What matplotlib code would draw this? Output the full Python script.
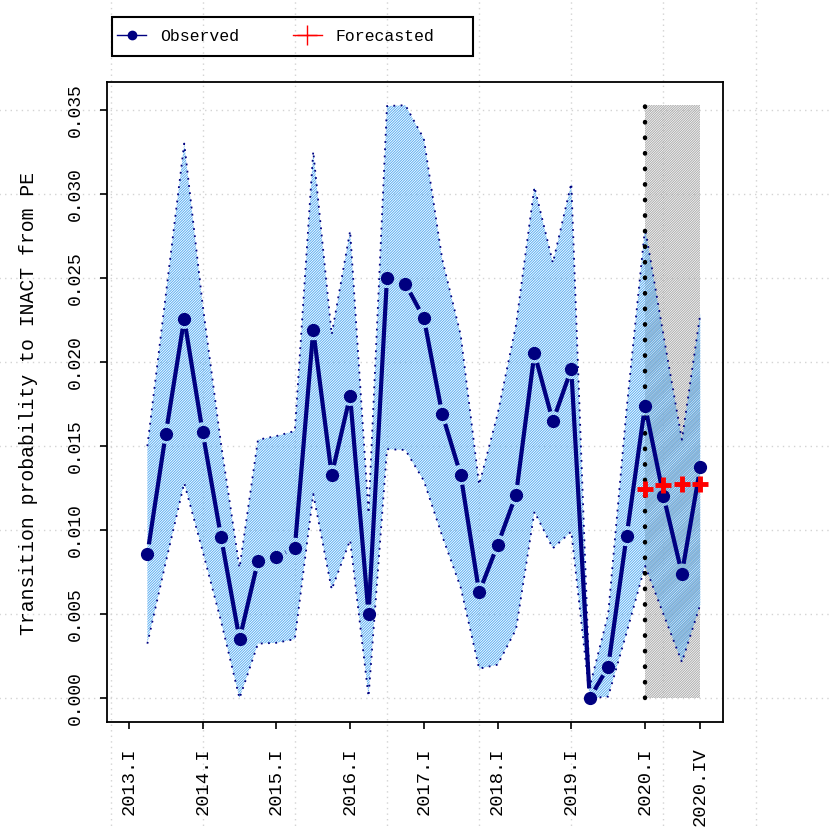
import numpy as np
import matplotlib
matplotlib.use('Agg')
import matplotlib.pyplot as plt

# Datos trimestrales: indice 1 = 2013.I
idx = list(range(2, 33))
observado = [0.00857, 0.01574, 0.02257, 0.01582, 0.00958, 0.00352, 0.00815, 0.00842,
             0.00895, 0.02189, 0.01329, 0.01799, 0.00499, 0.02500, 0.02465, 0.02262,
             0.01689, 0.01329, 0.00630, 0.00912, 0.01210, 0.02052, 0.01648, 0.01958,
             0.00000, 0.00188, 0.00965, 0.01740, 0.01204, 0.00742, 0.01375]
superior = [0.0150, 0.0240, 0.0330, 0.0234, 0.0151, 0.00776, 0.01538, 0.0156,
            0.0159, 0.03253, 0.02164, 0.0278, 0.0110, 0.03523, 0.03528, 0.03328,
            0.0261, 0.0216, 0.0127, 0.0169, 0.0222, 0.03042, 0.0259, 0.03063,
            0.0007, 0.0050, 0.0172, 0.02798, 0.0216, 0.01538, 0.02288]
inferior = [0.00325, 0.0081, 0.01281, 0.00875, 0.00457, 0.0000, 0.00325, 0.0033,
            0.00352, 0.01215, 0.00647, 0.00941, 0.0001, 0.01482, 0.01477, 0.01294,
            0.00964, 0.00659, 0.00176, 0.0020, 0.0041, 0.0111, 0.00892, 0.00992,
            0.0, 0.0001, 0.0039, 0.00788, 0.0050, 0.00215, 0.00558]
idx_pron = [29, 30, 31, 32]
pronostico = [0.01244, 0.01267, 0.01275, 0.01275]

ticks_x = [1, 5, 9, 13, 17, 21, 25, 29, 32]
etiquetas_x = ['2013.I', '2014.I', '2015.I', '2016.I', '2017.I', '2018.I',
               '2019.I', '2020.I', '2020.IV']
ticks_y = [0.0, 0.005, 0.010, 0.015, 0.020, 0.025, 0.030, 0.035]
grid_x = [0, 5, 10, 15, 20, 25, 30, 35]
zona_pron = (29, 32)
tope = 0.0353

plt.rcParams['font.family'] = ['Liberation Mono', 'DejaVu Sans Mono']
plt.rcParams['hatch.linewidth'] = 0.7

fig = plt.figure(figsize=(8.3, 8.3), dpi=100)
ax = fig.add_axes([107/830, 1 - 722/830, 616/830, 640/830])
ax.set_xlim(-0.19, 33.23)
ax.set_ylim(-0.00141, 0.03666)

# cuadricula que se sale del panel
for gy in ticks_y:
    ax.axhline(gy, xmin=-0.3, xmax=1.3, color='#d3d3d3', lw=1, ls=(0, (1, 3)),
               clip_on=False, zorder=0)
for gx in grid_x:
    ax.axvline(gx, ymin=-0.3, ymax=1.3, color='#d3d3d3', lw=1, ls=(0, (1, 3)),
               clip_on=False, zorder=0)

# zona de pronostico (gris)
ax.fill_between(zona_pron, [0, 0], [tope, tope], facecolor='none',
                hatch='/' * 14, edgecolor='#ababab', linewidth=0, zorder=1)

# banda de confianza
ax.fill_between(idx, inferior, superior, facecolor='none', hatch='/' * 13,
                edgecolor='#5aaef2', linewidth=0, zorder=2)
ax.plot(idx, superior, color='#000080', lw=1.3, ls=(0, (1, 3)), zorder=3)
ax.plot(idx, inferior, color='#000080', lw=1.3, ls=(0, (1, 3)), zorder=3)

# linea vertical de inicio del pronostico
ax.plot([zona_pron[0], zona_pron[0]], [0, tope], color='black', lw=3.2,
        ls=(0, (0.1, 3.4)), dash_capstyle='round', zorder=4)

# observado tipo "b": segmentos con hueco alrededor de los puntos
pts = ax.transData.transform(np.column_stack([idx, observado]))
inv = ax.transData.inverted()
hueco = 10
for p0, p1 in zip(pts[:-1], pts[1:]):
    d = p1 - p0
    L = np.hypot(*d)
    if L <= 2 * hueco:
        continue
    a = inv.transform(p0 + d / L * hueco)
    b = inv.transform(p1 - d / L * hueco)
    ax.plot([a[0], b[0]], [a[1], b[1]], color='#000080', lw=3, zorder=5,
            solid_capstyle='butt')
ax.plot(idx, observado, 'o', color='#000080', markersize=8.5, zorder=6)

# pronostico
ax.plot(idx_pron, pronostico, '+', color='red', markersize=11, mew=3.5, zorder=7)

# leyenda (marco dibujado aparte)
h1, = ax.plot([], [], color='#000080', marker='o', markersize=6, lw=1)
h2, = ax.plot([], [], color='red', marker='+', markersize=14, lw=1)
leg = fig.legend([h1, h2], ['Observed', 'Forecasted'], ncol=2,
                 bbox_to_anchor=(117/830, 1 - 36.5/830), loc='center left',
                 borderaxespad=0, borderpad=0, frameon=False, fontsize=11.9,
                 handlelength=1.76, handletextpad=0.85, columnspacing=3.25)
fig.add_artist(plt.Rectangle((112/830, 1 - 56/830), 361/830, 39/830,
                             transform=fig.transFigure, fill=False, lw=1.5,
                             ec='black'))

ax.set_xticks(ticks_x)
ax.set_xticklabels(etiquetas_x, rotation=90, fontsize=13.5)
ax.set_yticks(ticks_y)
ax.set_yticklabels(['%.3f' % v for v in ticks_y], rotation=90, va='center',
                   fontsize=13)
ax.tick_params(axis='both', length=5, width=1.2, direction='out')
ax.tick_params(axis='x', pad=13)
ax.tick_params(axis='y', pad=12)
for s in ax.spines.values():
    s.set_linewidth(1.3)

fig.text(29/830, 1 - 403/830, 'Transition probability to INACT from PE',
         rotation=90, ha='center', va='center', fontsize=14.2)

fig.savefig('out.png', dpi=100)
